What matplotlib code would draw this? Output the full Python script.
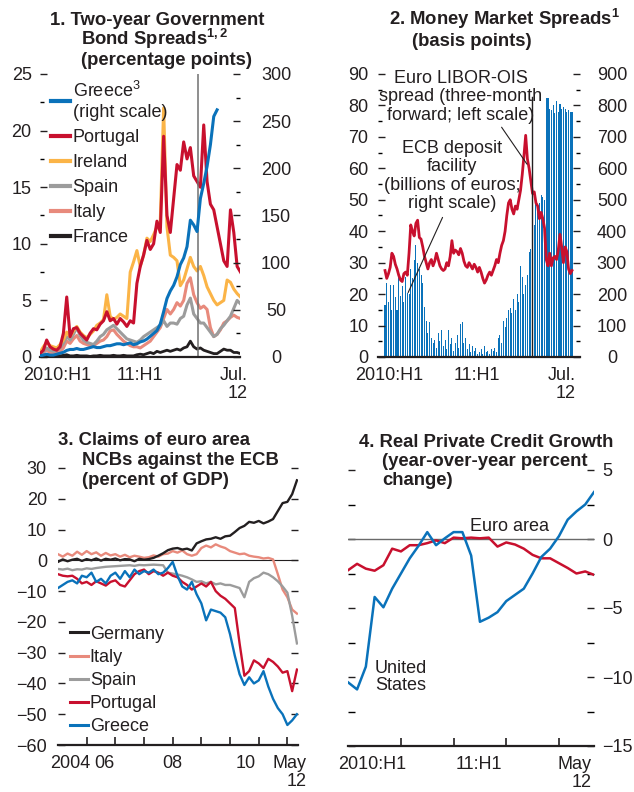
import numpy as np
import matplotlib
matplotlib.use("Agg")
import matplotlib.pyplot as plt
from matplotlib.lines import Line2D
from matplotlib.ticker import MultipleLocator

plt.rcParams['font.family'] = ['Liberation Sans', 'DejaVu Sans']
plt.rcParams['mathtext.fontset'] = 'custom'
plt.rcParams['mathtext.rm'] = 'Liberation Sans'
plt.rcParams['mathtext.bf'] = 'Liberation Sans:bold'

# ------------------------------------------------------------------ data
# Panel 1: two-year government bond spreads, semi-monthly Jan 2010 - Jul 2012
p1_start, p1_end, p1_n = 2010.0, 2012.5, 61
portugal_2y = [0.3, 0.6, 1.5, 0.9, 0.7, 0.6, 0.9, 2.1, 5.3, 1.8,
               2.5, 2.6, 2.1, 1.8, 1.5, 2.1, 2.5, 2.4, 2.9, 3.2,
               4.0, 3.2, 3.4, 2.9, 3.4, 3.1, 2.7, 3.2, 3.0, 6.5,
               8.0, 9.0, 10.3, 9.5, 10.0, 12.0, 11.0, 19.5, 12.5, 11.0,
               14.0, 17.0, 16.5, 19.0, 17.5, 18.5, 16.0, 15.5, 15.0, 20.5,
               15.5, 13.5, 13.0, 11.5, 10.0, 8.5, 8.0, 13.0, 11.0, 8.0, 7.5]
ireland_2y = [0.4, 0.9, 1.3, 1.0, 0.9, 0.8, 1.1, 1.5, 2.2, 1.8,
              2.3, 2.7, 2.2, 1.9, 1.7, 2.0, 2.3, 2.8, 3.0, 3.3,
              5.5, 3.6, 3.3, 3.5, 3.8, 3.6, 3.4, 7.5, 8.4, 9.4,
              8.0, 9.0, 10.5, 10.2, 10.8, 11.5, 12.0, 22.0, 11.5, 9.0,
              8.8, 8.5, 6.3, 6.8, 7.8, 8.8, 8.0, 7.6, 8.0, 7.2,
              6.2, 5.6, 5.0, 4.6, 4.8, 5.0, 6.8, 6.6, 6.0, 5.6, 5.3]
spain_2y = [0.2, 0.5, 0.8, 0.6, 0.5, 0.6, 0.8, 1.2, 1.8, 1.5,
            2.0, 2.6, 1.9, 1.5, 1.3, 1.2, 1.1, 1.4, 1.8, 2.0,
            2.4, 2.6, 2.8, 2.5, 2.2, 1.9, 1.6, 1.5, 1.4, 1.3,
            1.5, 1.8, 2.0, 2.2, 2.4, 2.6, 2.8, 3.2, 2.7, 3.0,
            3.0, 2.9, 3.4, 3.6, 4.6, 5.2, 3.8, 3.4, 3.0, 3.0,
            2.6, 2.2, 1.8, 2.0, 2.5, 2.8, 3.2, 3.6, 4.3, 5.0, 4.7]
italy_2y = [0.2, 0.4, 0.6, 0.4, 0.3, 0.4, 0.5, 0.8, 1.4, 1.2,
            1.6, 1.9, 1.4, 1.2, 1.1, 1.0, 1.0, 1.2, 1.4, 1.5,
            1.8, 2.3, 2.4, 2.0, 1.7, 1.4, 1.2, 1.0, 0.9, 0.9,
            0.8, 1.0, 1.2, 1.4, 1.8, 2.2, 2.6, 3.4, 4.2, 3.8,
            4.2, 4.8, 4.5, 5.0, 6.5, 7.0, 5.5, 4.8, 4.3, 4.5,
            4.2, 2.6, 1.8, 2.0, 2.4, 3.0, 3.2, 3.5, 3.7, 3.5, 3.4]
france_2y = [0.1, 0.15, 0.2, 0.1, 0.15, 0.1, 0.1, 0.15, 0.2, 0.1,
             0.1, 0.15, 0.1, 0.1, 0.1, 0.05, 0.1, 0.1, 0.15, 0.1,
             0.1, 0.1, 0.15, 0.1, 0.1, 0.15, 0.1, 0.1, 0.1, 0.2,
             0.25, 0.2, 0.3, 0.4, 0.3, 0.5, 0.4, 0.5, 0.6, 0.5,
             0.6, 0.7, 0.6, 0.8, 0.9, 1.4, 0.9, 0.7, 0.8, 0.6,
             0.5, 0.4, 0.3, 0.3, 0.5, 0.7, 0.6, 0.6, 0.4, 0.4, 0.3]
greece_2y = [1, 2, 3, 2, 2, 3, 4, 5, 7, 8,
             8, 9, 8, 8, 9, 10, 11, 10, 10, 11,
             12, 12, 13, 14, 14, 13, 14, 15, 13, 14,
             16, 17, 19, 22, 25, 28, 35, 48, 62, 70,
             76, 85, 98, 105, 117, 145, 140, 133, 168, 184,
             202, 225, 255, 262]          # right scale
event_date = 2011.97                       # vertical line, Dec. 2011
p1_labels = ['2010:H1', '11:H1', 'Jul.\n12']

# Panel 2: money market spreads, weekly Feb 2010 - Jul 2012
p2_start, p2_end, p2_n = 2010.05, 2012.5, 110
libor_ois = [27.5, 25, 26.5, 28.5, 33, 32, 29.5, 28, 26, 24.5,
             24, 26.5, 27, 26, 33, 42, 40, 38.5, 42.5, 43.5,
             38, 37.5, 35, 32, 30, 28, 30, 31, 29, 30.5,
             33, 31, 29, 28, 27.5, 28, 30, 29, 32, 37,
             33, 34, 33.5, 32.5, 34.5, 33, 30.5, 29, 28.5, 30,
             29, 28, 29.5, 28.5, 27, 28.5, 27, 25, 23.5, 24.5,
             26, 27, 26, 27.5, 29, 31, 30, 33, 35.5, 37,
             40, 45, 49, 50, 47, 45.5, 48, 47, 50, 53,
             58, 64, 70.5, 63, 60, 56, 52, 52.5, 49, 48,
             44, 46, 44, 41, 31, 29, 33, 29, 31.5, 32,
             31, 34, 39, 35, 30, 35, 33.5, 28, 26.5, 27.5]
ecb_deposit = [165, 235, 175, 230, 150, 230, 190, 150, 265, 195,
               225, 175, 255, 205, 200, 280, 250, 310, 355, 300,
               280, 260, 235, 160, 115, 75, 110, 60, 45, 55,
               30, 75, 50, 85, 35, 55, 25, 85, 40, 60,
               20, 45, 70, 30, 105, 110, 45, 60, 25, 40,
               15, 35, 20, 30, 10, 15, 25, 8, 35, 15,
               20, 10, 25, 20, 30, 15, 60, 70, 45, 115,
               95, 125, 150, 155, 140, 185, 150, 200, 175, 290,
               255, 200, 230, 260, 335, 345, 410, 420, 500, 470,
               490, 515, 510, 500, 825, 825, 790, 785, 800, 775,
               815, 780, 805, 790, 795, 790, 780, 785, 780, 780]
p2_labels = ['2010:H1', '11:H1', 'Jul.\n12']

# Panel 3: claims of euro area NCBs against the ECB, bi-monthly 2004 - May 2012
p3_start, p3_end, p3_n = 2004.0, 2012.333, 51
germany = [-0.5, 0.3, -0.3, 0.2, 0.5, -0.2, 0.4, 0.0, 0.6, -0.1,
           0.5, 0.2, 0.6, 0.0, 0.4, 0.3, -0.3, 0.5, 0.2, 0.4,
           0.8, 1.5, 2.3, 3.3, 3.8, 4.0, 3.5, 3.8, 3.2, 5.5,
           6.2, 6.8, 7.0, 7.5, 7.0, 7.8, 8.0, 9.2, 10.5, 11.2,
           12.5, 12.2, 12.8, 12.0, 12.6, 13.4, 16.0, 18.6, 19.0, 21.5,
           26.0]
italy = [2.0, 1.2, 2.2, 1.5, 2.8, 1.8, 3.0, 2.0, 2.6, 1.5,
         2.4, 1.6, 2.0, 1.2, 1.8, 1.0, 1.5, 1.2, 0.8, 1.0,
         1.6, 1.2, 2.0, 2.2, 3.0, 2.5, 3.2, 2.0, 1.5, 2.0,
         4.0, 4.8, 4.2, 5.2, 4.5, 4.0, 3.0, 2.5, 2.0, 2.2,
         1.5, 1.2, 1.0, 0.6, 0.8, 0.3, -4.5, -9.5, -12.0, -16.0,
         -17.3]
spain = [-2.8, -3.0, -2.7, -3.2, -2.9, -3.0, -2.6, -2.8, -2.5, -2.3,
         -2.1, -2.0, -1.9, -1.8, -1.7, -1.6, -1.8, -1.5, -1.6, -1.5,
         -1.4, -1.5, -1.6, -4.0, -4.3, -4.6, -5.0, -5.5, -6.2, -7.0,
         -6.8, -7.5, -7.0, -7.8, -7.5, -8.0, -8.0, -8.5, -9.0, -12.0,
         -7.0, -5.8, -5.2, -4.0, -4.5, -5.5, -6.8, -8.5, -10.5, -18.0,
         -27.0]
portugal = [-4.5, -5.0, -5.2, -5.0, -6.0, -7.5, -7.0, -8.0, -6.8, -7.5,
            -8.2, -7.0, -6.5, -8.0, -8.5, -6.5, -4.5, -3.5, -3.0, -4.5,
            -3.5, -4.0, -5.0, -4.0, -5.0, -5.5, -7.0, -8.0, -9.5, -8.5,
            -7.5, -8.5, -7.0, -10.0, -11.5, -12.5, -14.0, -15.5, -27.0, -37.5,
            -36.0, -32.5, -33.5, -35.0, -32.0, -33.0, -34.5, -36.5, -36.0, -42.5,
            -35.5]
greece = [-9.0, -8.0, -7.0, -6.5, -7.5, -5.0, -5.5, -4.0, -7.0, -6.0,
          -7.5, -5.0, -4.0, -6.0, -3.5, -5.5, -3.0, -4.5, -3.5, -4.0,
          -3.0, -4.5, -4.0, -2.5, -0.5, -5.0, -8.5, -9.5, -7.0, -11.0,
          -14.0, -19.5, -16.0, -16.5, -17.0, -18.5, -24.0, -31.0, -37.0, -40.5,
          -38.0, -40.0, -39.0, -36.0, -41.0, -45.0, -48.0, -50.0, -53.5, -52.0,
          -50.0]
p3_labels = ['2004', '06', '08', '10', 'May\n12']

# Panel 4: real private credit growth, monthly Jan 2010 - May 2012
euro_area = [-2.25, -1.8, -2.15, -2.3, -1.9, -0.7, -0.9, -0.45, -0.45, -0.3,
             -0.1, -0.3, 0.1, 0.05, 0.1, 0.05, 0.1, -0.55, -0.25, -0.4,
             -0.7, -1.15, -1.4, -1.4, -1.75, -2.1, -2.5, -2.35, -2.6]
united_states = [-10.4, -10.9, -9.25, -4.2, -4.95, -3.6, -2.5, -1.4, -0.5, 0.5,
                 -0.45, 0.05, 0.5, 0.5, -1.2, -6.0, -5.7, -5.3, -4.5, -4.05,
                 -3.6, -2.5, -1.3, -0.7, 0.2, 1.4, 2.0, 2.5, 3.4]
p4_labels = ['2010:H1', '11:H1', 'May\n12']

# ------------------------------------------------------------------ style
INK = '#231f20'
BLUE = '#0a72ba'
RED = '#c8102e'
ORANGE = '#fbb447'
GRAY = '#9c9c9c'
SALMON = '#e88a7c'
FS = 13
TFS = 13.3

W, H = 634, 792
fig = plt.figure(figsize=(W / 100, H / 100), dpi=100)


def axes_px(x0, x1, ytop, ybot):
    return fig.add_axes([x0 / W, 1 - ybot / H, (x1 - x0) / W, (ybot - ytop) / H])


def clean(ax, bottom=True):
    for s in ('top', 'left', 'right'):
        ax.spines[s].set_visible(False)
    ax.spines['bottom'].set_visible(bottom)
    ax.spines['bottom'].set_color(INK)
    ax.spines['bottom'].set_linewidth(1.6)
    ax.tick_params(colors=INK, labelsize=FS)


def xlabels(ax, pos, labels, pad=7):
    ax.xaxis.remove_overlapping_locs = False
    ax.set_xticks(pos, minor=True)
    texts = ax.set_xticklabels(labels, minor=True)
    for t in texts:
        t.set_multialignment('right')
        t.set_linespacing(1.1)
    ax.tick_params(axis='x', which='minor', length=0, pad=pad, labelsize=FS, colors=INK)


def center_right(ax):
    for tk in ax.yaxis.get_major_ticks():
        tk.label2.set_horizontalalignment('center')


def title(x0, indent, baselines, lines):
    for k, (line, yb) in enumerate(zip(lines, baselines)):
        fig.text((x0 + (indent if k else 0)) / W, 1 - yb / H, line,
                 fontsize=TFS, fontweight='bold', color=INK,
                 ha='left', va='baseline')


# ------------------------------------------------------------------ panel 1
p1_x = np.linspace(p1_start, p1_end, p1_n)
ax1 = axes_px(40, 240, 74, 357)
ax1r = ax1.twinx()
clean(ax1)
clean(ax1r, bottom=False)
ax1.set_xlim(2010.0, 2012.494)
ax1.set_ylim(0, 25)
ax1r.set_ylim(0, 300)
ax1.plot(p1_x, italy_2y, color=SALMON, lw=2.2)
ax1.plot(p1_x, spain_2y, color=GRAY, lw=2.2)
ax1.plot(p1_x, ireland_2y, color=ORANGE, lw=2.2)
ax1.plot(p1_x, portugal_2y, color=RED, lw=2.2)
ax1.plot(p1_x, france_2y, color=INK, lw=2.0)
ax1r.plot(p1_x[:len(greece_2y)], greece_2y, color=BLUE, lw=2.2)
ax1.axvline(event_date, color='#707070', lw=1.1)
ax1.yaxis.set_major_locator(MultipleLocator(5))
ax1.yaxis.set_minor_locator(MultipleLocator(2.5))
ax1r.yaxis.set_major_locator(MultipleLocator(50))
ax1r.yaxis.set_minor_locator(MultipleLocator(25))
ax1.tick_params(axis='y', which='major', direction='in', length=5, width=1, pad=6)
ax1.tick_params(axis='y', which='minor', direction='in', length=3, width=1)
ax1r.tick_params(axis='y', which='major', direction='in', length=5, width=1, pad=26)
ax1r.tick_params(axis='y', which='minor', direction='in', length=3, width=1)
center_right(ax1r)
ax1.set_xticks([])
xlabels(ax1, [2010.21, 2011.25, 2012.41], p1_labels)
handles = [Line2D([], [], color=c, lw=3) for c in (BLUE, RED, ORANGE, GRAY, SALMON, INK)]
names = ['Greece$^3$\n(right scale)', 'Portugal', 'Ireland', 'Spain', 'Italy', 'France']
leg = ax1.legend(handles, names, loc='upper left', bbox_to_anchor=(0.055, 0.975),
                 frameon=False, fontsize=FS, handlelength=1.05, handletextpad=0.15,
                 labelspacing=0.45, borderpad=0, borderaxespad=0)
for t in leg.get_texts():
    t.set_color(INK)
title(50, 31, [25, 45, 65], ['1. Two-year Government',
                             r'Bond Spreads$^{\mathbf{1,2}}$',
                             '(percentage points)'])

# ------------------------------------------------------------------ panel 2
p2_x = np.linspace(p2_start, p2_end, p2_n)
step2 = (p2_end - p2_start) / (p2_n - 1)
ax2 = axes_px(378, 580, 74, 357)
ax2r = ax2.twinx()
clean(ax2)
clean(ax2r, bottom=False)
ax2.set_zorder(ax2r.get_zorder() + 1)
ax2.patch.set_visible(False)
ax2.set_xlim(2009.958, 2012.605)
ax2.set_ylim(0, 90)
ax2r.set_ylim(0, 900)
ax2r.bar(p2_x, ecb_deposit, width=step2 * 0.62, color=BLUE, linewidth=0)
ax2.plot(p2_x, libor_ois, color=RED, lw=2.0)
ax2.plot([event_date, event_date], [0, 82.7], color=INK, lw=1.0)
ax2.yaxis.set_major_locator(MultipleLocator(10))
ax2.yaxis.set_minor_locator(MultipleLocator(5))
ax2r.yaxis.set_major_locator(MultipleLocator(100))
ax2r.yaxis.set_minor_locator(MultipleLocator(50))
ax2.tick_params(axis='y', which='major', direction='in', length=5, width=1, pad=7)
ax2.tick_params(axis='y', which='minor', direction='in', length=3, width=1)
ax2r.tick_params(axis='y', which='major', direction='in', length=5, width=1, pad=23)
ax2r.tick_params(axis='y', which='minor', direction='in', length=3, width=1)
center_right(ax2r)
ax2.set_xticks([])
xlabels(ax2, [2010.10, 2011.256, 2012.37], p2_labels)
ax2.text(2011.046, 82.7, 'Euro LIBOR-OIS\nspread (three-month\nforward; left scale)',
         ha='center', va='center', fontsize=FS, color=INK, linespacing=1.12)
ax2.text(2010.928, 57.6, 'ECB deposit\nfacility\n(billions of euros;\nright scale)',
         ha='center', va='center', fontsize=FS, color=INK, linespacing=1.12)
ax2.annotate('', xy=(2011.931, 60.6), xytext=(2011.557, 73.8),
             arrowprops=dict(arrowstyle='-', color=INK, lw=0.8))
ax2.annotate('', xy=(2010.338, 19.7), xytext=(2010.819, 45.2),
             arrowprops=dict(arrowstyle='-', color=INK, lw=0.8))
title(389, 23, [25, 46], [r'2. Money Market Spreads$^{\mathbf{1}}$', '(basis points)'])

# ------------------------------------------------------------------ panel 3
p3_x = np.linspace(p3_start, p3_end, p3_n)
ax3 = axes_px(58, 298, 468, 745)
clean(ax3)
ax3.set_xlim(2004.0, 2012.37)
ax3.set_ylim(-60, 30)
ax3.axhline(0, color=INK, lw=0.8)
ax3.plot(p3_x, italy, color=SALMON, lw=1.7)
ax3.plot(p3_x, spain, color=GRAY, lw=1.7)
ax3.plot(p3_x, germany, color=INK, lw=1.7)
ax3.plot(p3_x, portugal, color=RED, lw=1.7)
ax3.plot(p3_x, greece, color=BLUE, lw=1.7)
ax3.yaxis.set_major_locator(MultipleLocator(10))
ax3.tick_params(axis='y', which='major', direction='in', length=5, width=1, pad=8,
                left=True, right=True, labelleft=True, labelright=False)
ax3.set_xticks(np.arange(2005, 2013))
ax3.tick_params(axis='x', which='major', direction='in', length=6, width=1.2, labelbottom=False)
xlabels(ax3, [2004.44, 2005.6, 2008.0, 2010.55, 2012.08], p3_labels, pad=7)
handles3 = [Line2D([], [], color=c, lw=2.2) for c in (INK, SALMON, GRAY, RED, BLUE)]
leg3 = ax3.legend(handles3, ['Germany', 'Italy', 'Spain', 'Portugal', 'Greece'],
                  loc='lower left', bbox_to_anchor=(0.05, 0.035), frameon=False,
                  fontsize=FS, handlelength=1.0, handletextpad=0.1, labelspacing=0.34,
                  borderpad=0, borderaxespad=0)
for t in leg3.get_texts():
    t.set_color(INK)
title(58, 24, [445, 465, 485], ['3. Claims of euro area', 'NCBs against the ECB',
                                '(percent of GDP)'])

# ------------------------------------------------------------------ panel 4
p4_x = np.arange(len(euro_area))
ax4 = axes_px(348.3, 594, 470, 746)
clean(ax4)
ax4.set_xlim(0, 28)
ax4.set_ylim(-15, 5)
ax4.axhline(0, color='#6a6a6a', lw=1.0)
ax4.plot(p4_x, euro_area, color=RED, lw=1.8)
ax4.plot(p4_x, united_states, color=BLUE, lw=1.8)
ax4.yaxis.set_major_locator(MultipleLocator(5))
ax4.yaxis.set_minor_locator(MultipleLocator(2.5))
ax4.tick_params(axis='y', which='both', direction='in', width=1,
                left=True, right=True, labelleft=False, labelright=True)
ax4.tick_params(axis='y', which='major', length=5, pad=6)
ax4.tick_params(axis='y', which='minor', length=5)
ax4.set_xticks([6, 12, 18, 24])
ax4.tick_params(axis='x', which='major', direction='in', length=6, width=1.2, labelbottom=False)
xlabels(ax4, [2.7, 14.9, 25.8], p4_labels, pad=7)
ax4.text(18.4, 0.87, 'Euro area', ha='center', va='center', fontsize=FS, color=INK)
ax4.text(3.05, -10.0, 'United\nStates', ha='left', va='center', fontsize=FS,
         color=INK, linespacing=0.95)
title(359, 23, [447, 466, 485], ['4. Real Private Credit Growth',
                                 '(year-over-year percent', 'change)'])

fig.savefig('out.png', dpi=100)
